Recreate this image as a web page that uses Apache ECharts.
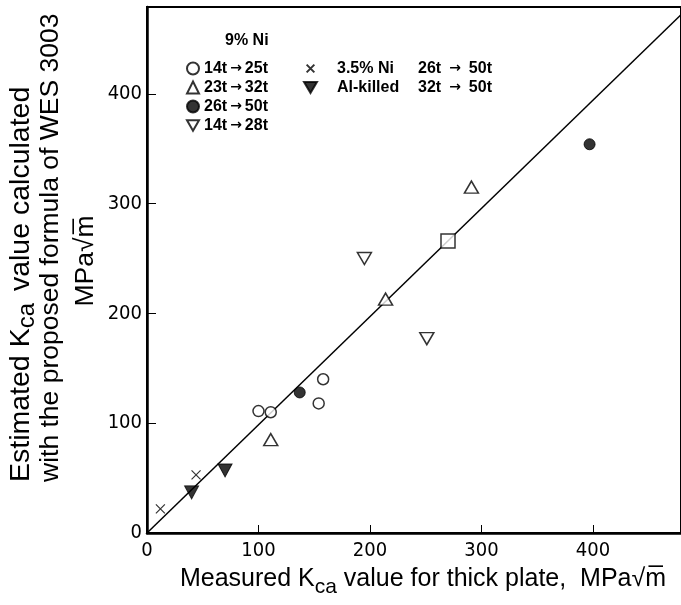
<!DOCTYPE html>
<html><head><meta charset="utf-8">
<script src="https://cdn.jsdelivr.net/npm/echarts@6/dist/echarts.min.js"></script>
<style>html,body{margin:0;padding:0;background:#fff}#c{width:681px;height:605px}</style>
</head><body><div id="c"></div>
<script>
// Data (x = measured Kca, y = estimated Kca)
const openCircle = [[100,111],[111,110],[158,140],[154,118]];      // 9% Ni 14t -> 25t
const openTriUp = [[111,85],[214,213],[291,315]];                  // 9% Ni 23t -> 32t
const filledCircle = [[137,128],[397,354]];                        // 9% Ni 26t -> 50t
const openTriDown = [[195,250],[251,177]];                         // 9% Ni 14t -> 28t
const crossNi35 = [[12,22],[44,53]];                               // 3.5% Ni 26t -> 50t
const filledTriDown = [[40,37],[70,57]];                           // Al-killed 32t -> 50t
const squarePts = [[270,266]];
const fitLine = [[0,0],[479,472]];
const xTicks = [0,100,200,300,400];
const yTicks = [0,100,200,300,400];

const chart = echarts.init(document.getElementById('c'), null, {renderer:'canvas'});
const tickFont = "'Liberation Sans Narrow','DejaVu Sans Condensed',sans-serif";
const titleFont = "'Liberation Sans',Arial,sans-serif";
const arrowFont = "'DejaVu Sans',sans-serif";
const crossPath = 'path://M0,0L10,10M10,0L0,10';
const crossIcon = 'path://M0,0M2.5,2.5L11.5,11.5M11.5,2.5L2.5,11.5M14,14';
const triDownIcon = 'path://M0,0L14,0L7,12Z';

const nameRich = {
  n:{fontFamily:titleFont,fontSize:25,color:'#000',lineHeight:30,verticalAlign:'top'},
  s:{fontFamily:titleFont,fontSize:21,color:'#000',lineHeight:21,padding:[10,0,0,0],verticalAlign:'top'}
};
const yRich1 = {
  n:{fontFamily:titleFont,fontSize:28.5,color:'#000',lineHeight:31,verticalAlign:'top'},
  s:{fontFamily:titleFont,fontSize:24,color:'#000',lineHeight:24,padding:[9,4,0,0],verticalAlign:'top'}
};
const yRich = {
  n:{fontFamily:titleFont,fontSize:26.5,color:'#000',lineHeight:31,verticalAlign:'top'}
};
const lab = v => (xTicks.indexOf(v) >= 0 ? String(v) : '');
const laby = v => (yTicks.indexOf(v) >= 0 ? String(v) : '');

const lgBase = {fontFamily:titleFont,fontSize:16,fontWeight:'bold',color:'#000',lineHeight:19};
const legendRich = {
  t:Object.assign({},lgBase),
  ar:{fontFamily:arrowFont,fontSize:14,color:'#000',lineHeight:19,padding:[0,3,0,3]},
  ar2:{fontFamily:arrowFont,fontSize:14,color:'#000',lineHeight:19,padding:[0,8,0,8]},
  a:Object.assign({},lgBase,{width:81,padding:[0,0,0,15]})
};
function fmtArrow(s, tag){ const p = s.split('→'); return '{t|'+p[0].trim()+'}{'+(tag||'ar')+'|→}{t|'+p[1].trim()+'}'; }

chart.setOption({
  animation:false,
  backgroundColor:'#fff',
  grid:{left:147,right:-3,top:7,bottom:72,show:true,borderColor:'#000',borderWidth:2,backgroundColor:'transparent'},
  xAxis:{type:'value',min:0,max:479,interval:100,
    axisLine:{onZero:false,lineStyle:{color:'#000',width:2.5}},
    axisTick:{inside:true,length:8,lineStyle:{color:'#000',width:1}},
    splitLine:{show:false},
    axisLabel:{formatter:lab,fontFamily:tickFont,fontSize:20,color:'#000',margin:8,showMaxLabel:false},
    name:'{n|Measured K}{s|ca}{n| value for thick plate,  MPa√m\u0305}',
    nameLocation:'middle',nameGap:34,
    nameTextStyle:{rich:nameRich,padding:[0,0,0,18]}
  },
  yAxis:{type:'value',min:0,max:479,interval:100,
    axisLine:{onZero:false,lineStyle:{color:'#000',width:2.5}},
    axisTick:{inside:true,length:9,lineStyle:{color:'#000',width:1}},
    splitLine:{show:false},
    axisLabel:{formatter:laby,fontFamily:tickFont,fontSize:20,color:'#000',margin:5,showMaxLabel:false}
  },
  title:{text:'9% Ni',left:220,top:28,textStyle:{fontFamily:titleFont,fontSize:16,fontWeight:'bold',color:'#000'}},
  legend:[
    {orient:'vertical',left:181,top:54,itemGap:0,itemWidth:12,itemHeight:12,selectedMode:false,
     data:['14t → 25t','23t → 32t','26t → 50t',{name:'14t → 28t',icon:triDownIcon}],
     formatter:function(n){return fmtArrow(n,'ar');},textStyle:Object.assign({},lgBase,{rich:legendRich})},
    {orient:'vertical',left:297,top:54,itemGap:0,itemWidth:13,itemHeight:12,selectedMode:false,
     data:[{name:'3.5% Ni|26t → 50t',icon:crossIcon},{name:'Al-killed|32t → 50t',icon:triDownIcon}],
     formatter:function(name){const p=name.split('|');return '{a|'+p[0]+'}'+fmtArrow(p[1],'ar2');},
     textStyle:Object.assign({},lgBase,{rich:legendRich})}
  ],
  graphic:[
    {type:'text',x:22,y:482,rotation:Math.PI/2,style:{text:'{n|Estimated K}{s|ca}{n| value calculated}',rich:yRich1,align:'left',verticalAlign:'middle'}},
    {type:'text',x:53,y:482,rotation:Math.PI/2,style:{text:'{n|with the proposed formula of WES 3003}',rich:yRich,align:'left',verticalAlign:'middle'}},
    {type:'text',x:88,y:261,rotation:Math.PI/2,style:{text:'{n|MPa√m\u0305}',rich:yRich,align:'center',verticalAlign:'middle'}}
  ],
  series:[
    {type:'line',data:fitLine,symbol:'none',silent:true,lineStyle:{color:'#000',width:1.5},z:1},
    {name:'14t → 25t',type:'scatter',data:openCircle,symbol:'circle',symbolSize:11,
      itemStyle:{color:'#fff',borderColor:'#000',borderWidth:1.5},z:3},
    {name:'23t → 32t',type:'scatter',data:openTriUp,symbol:'triangle',symbolSize:[14,12],
      itemStyle:{color:'#fff',borderColor:'#000',borderWidth:1.5},z:3},
    {name:'26t → 50t',type:'scatter',data:filledCircle,symbol:'circle',symbolSize:11,
      itemStyle:{color:'#000',borderColor:'#000',borderWidth:1},z:3},
    {name:'14t → 28t',type:'scatter',data:openTriDown,symbol:'triangle',symbolRotate:180,symbolSize:[14,12],
      itemStyle:{color:'#fff',borderColor:'#000',borderWidth:1.5},z:3},
    {name:'3.5% Ni|26t → 50t',type:'scatter',data:crossNi35,symbol:crossPath,symbolSize:9,
      itemStyle:{color:'none',borderColor:'#000',borderWidth:1.2},z:3},
    {name:'Al-killed|32t → 50t',type:'scatter',data:filledTriDown,symbol:'triangle',symbolRotate:180,symbolSize:[14,13],
      itemStyle:{color:'#000',borderColor:'#000',borderWidth:1},z:3},
    {name:'square',type:'scatter',data:squarePts,symbol:'rect',symbolSize:14,
      itemStyle:{color:'#fff',borderColor:'#000',borderWidth:1.5},z:3}
  ]
});
</script></body></html>
